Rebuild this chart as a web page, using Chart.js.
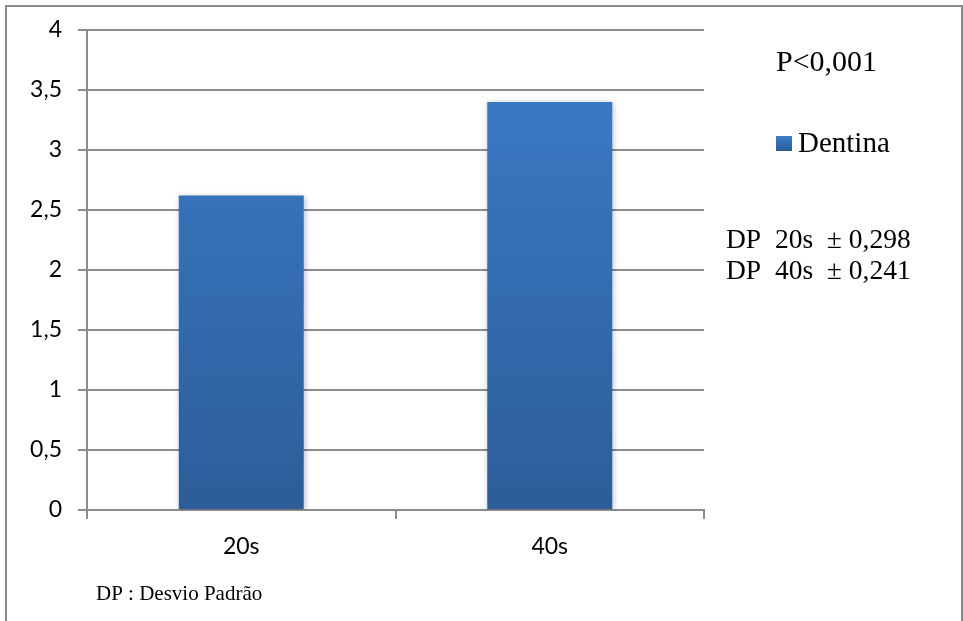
<!DOCTYPE html>
<html lang="pt">
<head>
<meta charset="utf-8">
<title>Dentina 20s x 40s</title>
<script src="https://cdn.jsdelivr.net/npm/chart.js@4/dist/chart.umd.min.js"></script>
<style>
  html, body { margin: 0; padding: 0; background: #ffffff; }
  #wrap { position: relative; width: 963px; height: 621px; }
</style>
</head>
<body>
<div id="wrap"><canvas id="chart" width="963" height="621"></canvas></div>
<script>
// Categories and values
const categories = ['20s', '40s'];
const seriesName = 'Dentina';
const dentina = [2.62, 3.40];

// Value axis range
const yMin = 0;
const yMax = 4;
const yStep = 0.5;

// Side and foot annotations
const pValueText = 'P<0,001';
const sdLines = ['DP  20s  \u00B1 0,298', 'DP  40s  \u00B1 0,241'];
const footnote = 'DP : Desvio Padr\u00E3o';

const gridColor = '#8c8c8c';
const sansFont = 'Lato, "Open Sans", sans-serif';
const serifFont = '"Liberation Serif", "DejaVu Serif", serif';

function barGradient(ctx, area) {
  const g = ctx.createLinearGradient(0, area.top, 0, area.bottom);
  g.addColorStop(0, '#3b7dca');
  g.addColorStop(1, '#2c5d98');
  return g;
}

// Soft shadow under the bars
const barShadow = {
  id: 'barShadow',
  beforeDatasetsDraw(chart) {
    const c = chart.ctx;
    c.save();
    c.shadowColor = 'rgba(0,0,0,0.28)';
    c.shadowBlur = 6;
    c.shadowOffsetX = 1;
    c.shadowOffsetY = 1;
  },
  afterDatasetsDraw(chart) {
    chart.ctx.restore();
  }
};

// Outer frame, legend and text notes
const annotations = {
  id: 'annotations',
  beforeDraw(chart) {
    const c = chart.ctx;
    c.save();
    c.fillStyle = '#ffffff';
    c.fillRect(0, 0, chart.width, chart.height);
    c.restore();
  },
  afterDraw(chart) {
    const c = chart.ctx;
    c.save();
    // frame (open at the bottom)
    c.strokeStyle = '#8a8a8a';
    c.lineWidth = 2;
    c.beginPath();
    c.moveTo(6, chart.height + 2);
    c.lineTo(6, 6);
    c.lineTo(962, 6);
    c.lineTo(962, chart.height + 2);
    c.stroke();

    c.fillStyle = '#000000';
    c.textBaseline = 'alphabetic';
    c.textAlign = 'left';

    c.font = '30px ' + serifFont;
    c.fillText(pValueText, 776, 71);

    // legend entry
    const sq = { x: 776, y: 136, w: 16, h: 15 };
    const lg = c.createLinearGradient(0, sq.y, 0, sq.y + sq.h);
    lg.addColorStop(0, '#3b7dca');
    lg.addColorStop(1, '#2c5d98');
    c.fillStyle = lg;
    c.fillRect(sq.x, sq.y, sq.w, sq.h);
    c.fillStyle = '#000000';
    c.font = '29px ' + serifFont;
    c.fillText(chart.data.datasets[0].label, 798, 152);

    c.font = '27.5px ' + serifFont;
    sdLines.forEach((t, i) => c.fillText(t, 726, 248 + i * 31));

    c.font = '21px ' + serifFont;
    c.fillText(footnote, 96, 600);
    c.restore();
  }
};

new Chart(document.getElementById('chart'), {
  type: 'bar',
  data: {
    labels: categories,
    datasets: [{
      label: seriesName,
      data: dentina,
      backgroundColor(ctx) {
        const area = ctx.chart.chartArea;
        if (!area) return '#3570b5';
        return barGradient(ctx.chart.ctx, area);
      },
      borderWidth: 0,
      categoryPercentage: 1,
      barPercentage: 0.405
    }]
  },
  options: {
    responsive: false,
    animation: false,
    events: [],
    layout: { padding: { top: 30, right: 259, left: 0, bottom: 0 } },
    plugins: {
      legend: { display: false },
      title: { display: false },
      tooltip: { enabled: false }
    },
    scales: {
      x: {
        offset: true,
        afterFit(scale) { scale.height = 111; },
        grid: {
          display: true,
          offset: true,
          drawOnChartArea: false,
          drawTicks: true,
          tickLength: 9,
          color: gridColor,
          lineWidth: 2
        },
        border: { display: true, color: gridColor, width: 2 },
        ticks: {
          color: '#000000',
          padding: 14,
          font: { family: sansFont, size: 23 }
        }
      },
      y: {
        min: yMin,
        max: yMax,
        afterFit(scale) { scale.width = 87; },
        grid: {
          color: gridColor,
          lineWidth: 2,
          drawTicks: true,
          tickLength: 9
        },
        border: { display: true, color: gridColor, width: 2 },
        ticks: {
          stepSize: yStep,
          color: '#000000',
          padding: 16,
          font: { family: sansFont, size: 23 },
          callback: (v) => String(v).replace('.', ',')
        }
      }
    }
  },
  plugins: [barShadow, annotations]
});
</script>
</body>
</html>
